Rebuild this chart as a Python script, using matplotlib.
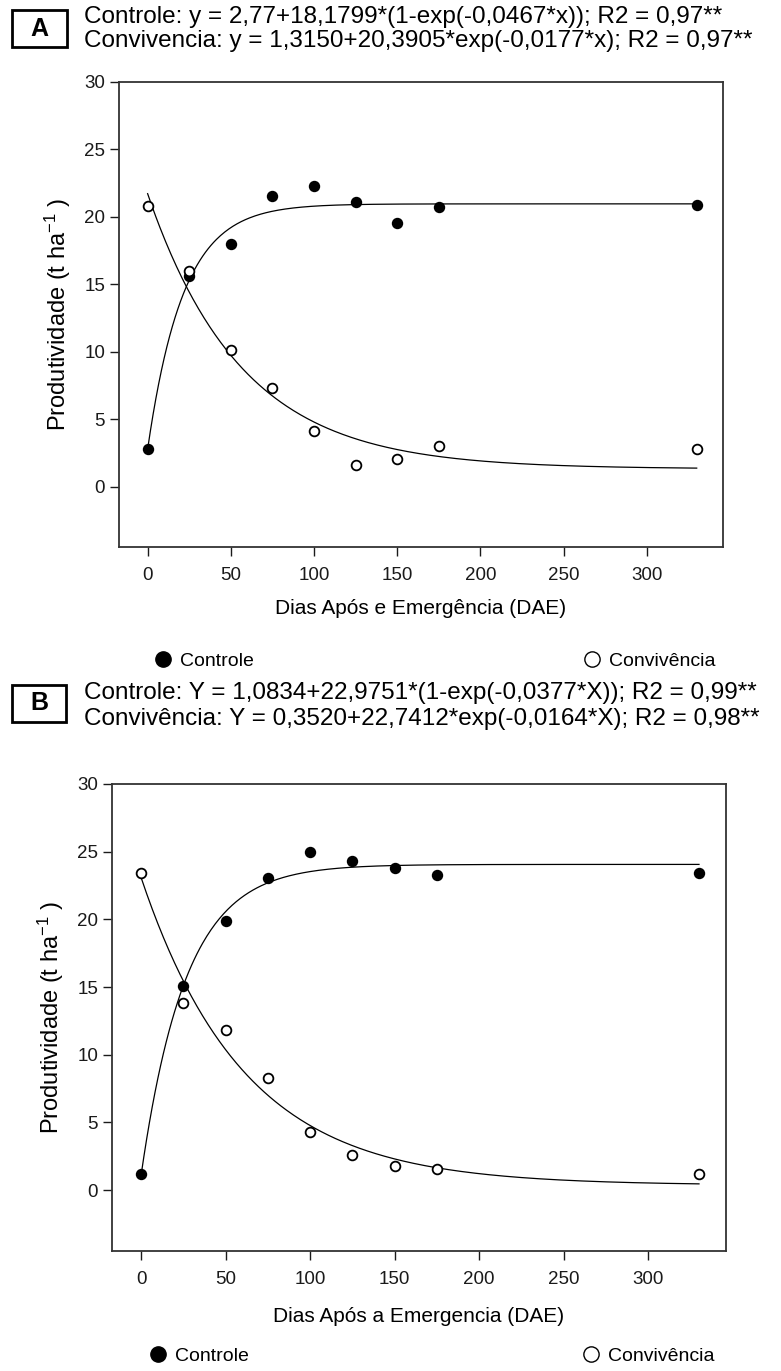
import matplotlib
matplotlib.use("Agg")
import matplotlib.pyplot as plt
import numpy as np
from matplotlib.patches import Rectangle
from matplotlib.lines import Line2D

plt.rcParams["font.family"] = ["Liberation Sans", "DejaVu Sans"]
plt.rcParams["mathtext.default"] = "regular"

W, H = 781, 1371

# sampling days (DAE)
days = [0, 25, 50, 75, 100, 125, 150, 175, 330]

# panel A observed yields (t/ha)
a_controle = [2.8, 15.6, 18.0, 21.5, 22.3, 21.1, 19.5, 20.7, 20.9]
a_convivencia = [20.8, 16.0, 10.1, 7.3, 4.15, 1.6, 2.05, 3.0, 2.8]
# panel B observed yields (t/ha)
b_controle = [1.15, 15.1, 19.9, 23.05, 25.0, 24.3, 23.8, 23.25, 23.45]
b_convivencia = [23.45, 13.8, 11.8, 8.25, 4.25, 2.6, 1.8, 1.55, 1.2]

# fitted model parameters (from the equations printed on the chart)
a_fit_controle = (2.77, 18.1799, 0.0467)
a_fit_convivencia = (1.3150, 20.3905, 0.0177)
b_fit_controle = (1.0834, 22.9751, 0.0377)
b_fit_convivencia = (0.3520, 22.7412, 0.0164)

a_eq = ["Controle: y = 2,77+18,1799*(1-exp(-0,0467*x)); R2 = 0,97**",
        "Convivencia: y = 1,3150+20,3905*exp(-0,0177*x); R2 = 0,97**"]
b_eq = ["Controle: Y = 1,0834+22,9751*(1-exp(-0,0377*X)); R2 = 0,99**",
        "Convivência: Y = 0,3520+22,7412*exp(-0,0164*X); R2 = 0,98**"]

x_ticks = [0, 50, 100, 150, 200, 250, 300]
y_ticks = [0, 5, 10, 15, 20, 25, 30]


def px(x, y):
    return x / W, 1 - y / H


def rise(x, p):
    a, b, k = p
    return a + b * (1 - np.exp(-k * x))


def decay(x, p):
    a, b, k = p
    return a + b * np.exp(-k * x)


def draw_panel(fig, rect, letter, box, eqs, eq_y, ctrl, conv, fit_c, fit_v, xlabel, xlabel_y, leg_y, leg_x):
    ax = fig.add_axes(rect)
    xs = np.linspace(0, max(days), 400)
    ax.plot(xs, rise(xs, fit_c), color="black", lw=0.9)
    ax.plot(xs, decay(xs, fit_v), color="black", lw=0.9)
    ax.plot(days, ctrl, "o", ms=7, mfc="black", mec="black", mew=1.2, zorder=3)
    ax.plot(days, conv, "o", ms=7, mfc="white", mec="black", mew=1.3, zorder=3)

    ax.set_xlim(-17.2, 345.8)
    ax.set_ylim(-4.47, 30)
    ax.set_xticks(x_ticks)
    ax.set_yticks(y_ticks)
    ax.tick_params(direction="out", length=6.5, width=1.0, labelsize=13.5, colors="#1a1a1a")
    ax.tick_params(axis="x", pad=8)
    for s in ax.spines.values():
        s.set_linewidth(1.3)
        s.set_color("#333333")
    ax.set_ylabel("Produtividade (t ha$^{-1}$ )", fontsize=17, labelpad=8)

    # panel letter in a box
    x0, y0, x1, y1 = box
    fig.add_artist(Rectangle(px(x0, y1), (x1 - x0) / W, (y1 - y0) / H,
                             transform=fig.transFigure, fill=False, lw=2.0, ec="black"))
    fig.text(*px((x0 + x1) / 2, (y0 + y1) / 2), letter, fontsize=18, fontweight="bold",
             ha="center", va="center")

    for txt, yy in zip(eqs, eq_y):
        fig.text(*px(84, yy), txt, fontsize=17.5, ha="left", va="center")

    cx = (rect[0] + rect[0] + rect[2]) / 2
    fig.text(cx, px(0, xlabel_y)[1], xlabel, fontsize=15, ha="center", va="center")

    h1 = Line2D([], [], ls="none", marker="o", ms=11, mfc="black", mec="black")
    h2 = Line2D([], [], ls="none", marker="o", ms=11, mfc="white", mec="black", mew=1.0)
    for h, lab, lx in [(h1, "Controle", leg_x[0]), (h2, "Convivência", leg_x[1])]:
        fig.legend(handles=[h], labels=[lab], loc="center left", bbox_to_anchor=px(lx, leg_y),
                   frameon=False, fontsize=14, handlelength=1.0, handletextpad=0.4,
                   borderpad=0, borderaxespad=0)
    return ax


fig = plt.figure(figsize=(W / 100, H / 100), dpi=100)

draw_panel(fig, [119 / W, 1 - 547 / H, 604 / W, 465.3 / H], "A", (12, 10, 67, 47),
           a_eq, (17, 41), a_controle, a_convivencia, a_fit_controle, a_fit_convivencia,
           "Dias Após e Emergência (DAE)", 608, 661, (153, 582))
draw_panel(fig, [112 / W, 1 - 1250.5 / H, 613.7 / W, 466.5 / H], "B", (12, 685, 66, 722),
           b_eq, (693, 719), b_controle, b_convivencia, b_fit_controle, b_fit_convivencia,
           "Dias Após a Emergencia (DAE)", 1316, 1356, (148, 581))

fig.savefig("out.png", dpi=100)
